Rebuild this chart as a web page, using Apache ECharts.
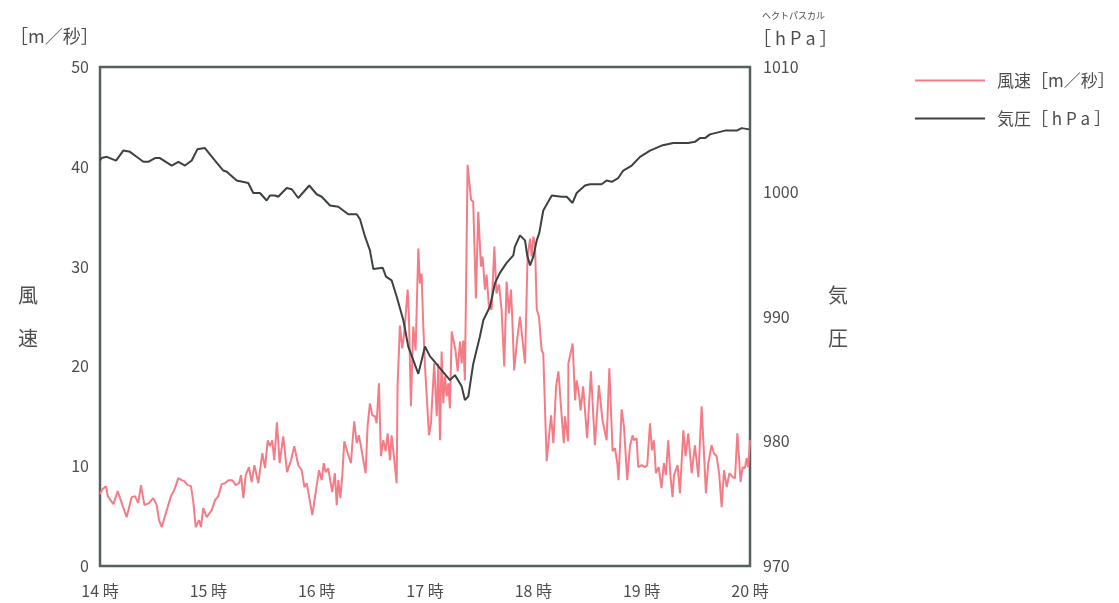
<!DOCTYPE html>
<html><head><meta charset="utf-8">
<script src="https://cdn.jsdelivr.net/npm/echarts@6/dist/echarts.min.js"></script>
<style>html,body{margin:0;padding:0;background:#fff}#c{width:1119px;height:603px}</style>
</head><body><div id="c"></div>
<script>
// time in minutes after 14:00
const xTickLabels = ['14 時','15 時','16 時','17 時','18 時','19 時','20 時'];
const windLabel = '風速［m／秒］';
const pressLabel = '気圧［ h P a ］';
const windSpeed = [[0,7.2],[1.3,7.7],[3.3,8.0],[4.3,7.0],[7.4,6.2],[9.8,7.5],[12.4,6.1],[14.8,4.9],[17.5,6.9],[19.4,7.0],[21.2,6.3],[22.7,8.1],[24.6,6.1],[27.1,6.3],[29.5,6.8],[31.4,6.1],[32.7,4.6],[34.2,3.9],[36.0,5.0],[36.9,4.8],[39.3,7.0],[41.1,7.6],[43.4,8.8],[45.2,8.6],[46.7,8.5],[48.6,8.1],[50.4,8.0],[51.7,6.4],[53.0,3.9],[54.8,4.6],[55.9,3.9],[57.2,5.8],[59.1,4.9],[61.9,5.6],[63.7,6.6],[65.5,7.0],[67.4,8.2],[69.2,8.3],[71.1,8.6],[73.3,8.6],[75.1,8.1],[77.0,8.3],[78.1,9.1],[79.4,6.8],[80.7,9.1],[82.5,9.9],[84.0,8.4],[85.5,10.1],[87.7,8.3],[89.9,11.3],[91.4,9.8],[92.9,12.6],[94.1,12.0],[95.4,12.6],[96.5,10.6],[98.0,14.4],[99.5,10.3],[101.5,13.0],[103.6,9.4],[105.8,10.6],[107.6,12.0],[109.8,10.1],[111.7,9.6],[113.2,7.9],[114.5,8.3],[117.6,5.1],[119.4,7.3],[121.3,9.6],[122.8,8.6],[123.9,10.3],[125.0,9.4],[126.4,9.8],[128.6,7.4],[130.1,9.3],[131.1,6.1],[132.0,8.6],[133.1,6.8],[134.2,9.1],[135.3,12.5],[137.2,11.3],[139.0,10.3],[139.7,12.1],[140.8,14.5],[142.2,12.3],[143.4,13.1],[144.9,11.6],[147.1,9.3],[148.2,14.0],[149.5,16.3],[150.8,15.1],[152.3,15.0],[153.2,14.3],[154.5,18.3],[155.6,11.0],[156.9,12.6],[158.2,11.5],[159.3,13.3],[160.6,10.6],[161.5,13.1],[163.0,10.6],[164.3,8.3],[164.8,18.0],[165.6,18.0],[166.1,24.1],[167.4,21.8],[168.5,23.3],[170.4,27.7],[171.1,25.0],[172.2,16.0],[173.5,24.0],[174.8,21.6],[176.3,31.8],[177.2,28.3],[178.1,29.3],[179.0,24.3],[180.0,20.0],[180.9,19.8],[182.2,13.1],[183.3,14.3],[184.0,14.1],[185.1,20.3],[186.5,15.0],[187.4,20.3],[188.3,12.6],[189.2,21.5],[190.1,16.3],[191.1,19.0],[192.0,17.0],[192.9,18.3],[193.8,15.8],[194.8,23.5],[195.8,23.6],[196.9,21.6],[198.1,19.5],[199.4,22.5],[200.3,20.3],[201.2,22.6],[202.1,18.6],[203.6,40.2],[205.5,36.7],[206.7,36.5],[208.2,26.8],[209.5,35.5],[211.0,30.0],[211.9,31.0],[213.2,27.7],[214.1,29.2],[215.4,26.0],[216.9,25.7],[218.4,32.0],[219.6,27.3],[221.0,28.2],[222.4,25.7],[223.9,20.0],[225.2,28.5],[226.5,25.3],[227.6,27.7],[228.3,25.0],[229.4,19.6],[230.8,22.3],[232.6,25.0],[235.4,20.3],[236.8,31.0],[238.2,32.8],[239.1,31.0],[240.0,33.0],[240.9,32.3],[241.9,25.7],[243.1,25.0],[244.6,21.6],[245.5,21.3],[247.4,10.5],[249.8,15.1],[251.1,12.3],[252.6,18.0],[253.9,19.5],[255.7,15.0],[256.9,12.3],[257.5,15.0],[259.3,12.5],[259.4,20.3],[261.8,22.3],[263.1,16.6],[264.0,18.6],[265.4,17.1],[266.2,15.6],[267.6,18.0],[269.8,12.8],[271.9,19.5],[274.1,12.1],[276.3,18.1],[278.3,14.6],[280.6,12.6],[282.1,19.8],[283.9,11.5],[285.2,11.8],[286.5,10.3],[287.2,8.6],[288.9,15.7],[290.2,14.0],[292.0,8.6],[293.5,12.0],[295.0,13.1],[295.7,12.6],[297.2,12.8],[298.1,9.9],[300.0,10.1],[301.8,9.9],[303.1,10.1],[304.6,14.3],[305.7,11.6],[306.8,12.6],[307.9,9.3],[309.4,9.9],[311.0,7.8],[312.3,10.3],[313.4,9.1],[314.7,12.6],[316.0,8.9],[317.1,6.9],[317.9,9.1],[319.0,8.9],[319.9,10.1],[321.2,7.3],[323.1,13.6],[324.3,11.0],[325.8,13.3],[327.7,9.3],[329.5,12.1],[331.4,8.9],[333.2,16.0],[335.6,7.3],[336.9,10.3],[338.7,12.1],[340.0,11.3],[341.5,11.0],[342.9,9.3],[344.3,5.9],[345.6,9.6],[347.1,7.9],[348.6,9.3],[350.4,8.9],[351.7,8.8],[353.0,13.3],[354.8,8.4],[355.9,9.9],[357.2,9.8],[358.1,10.8],[359.0,9.9],[360,12.6]];
const pressure = [[0,1002.5],[0.9,1002.7],[3.7,1002.8],[8.9,1002.5],[12.9,1003.3],[16.6,1003.2],[20.3,1002.8],[24.0,1002.4],[26.7,1002.4],[30.5,1002.7],[33.2,1002.7],[39.7,1002.1],[43.4,1002.4],[47.1,1002.1],[50.8,1002.5],[53.9,1003.4],[58.1,1003.5],[63.7,1002.5],[68.3,1001.7],[70.2,1001.6],[75.7,1000.9],[82.1,1000.7],[84.9,999.9],[88.6,999.9],[92.3,999.3],[94.1,999.7],[96.9,999.7],[98.7,999.6],[103.4,1000.3],[106.2,1000.2],[109.8,999.5],[115.9,1000.5],[120.0,999.8],[122.8,999.6],[127.4,998.9],[132.0,998.8],[137.5,998.2],[142.2,998.2],[144.0,997.8],[146.8,996.4],[149.5,995.3],[151.4,993.8],[156.6,993.9],[158.4,993.2],[161.5,992.9],[164.3,991.6],[168.0,989.7],[170.7,987.6],[173.5,986.5],[176.3,985.4],[180.0,987.6],[182.8,986.8],[184.6,986.5],[187.4,986.0],[189.2,985.7],[193.8,984.9],[196.6,985.3],[200.3,984.4],[202.1,983.3],[204.0,983.6],[206.7,986.2],[210.4,988.4],[212.3,989.7],[216.0,990.8],[218.8,992.7],[221.5,993.5],[225.2,994.3],[228.9,994.9],[229.8,995.6],[232.6,996.5],[235.4,996.1],[236.6,994.9],[238.2,994.1],[240.0,994.8],[241.9,996.1],[243.3,996.7],[245.5,998.5],[250.2,999.7],[255.7,999.6],[258.5,999.6],[261.7,999.1],[264.0,999.9],[268.6,1000.5],[271.4,1000.6],[277.8,1000.6],[280.6,1000.9],[283.4,1000.8],[287.0,1001.1],[289.8,1001.7],[294.5,1002.1],[299.1,1002.8],[304.6,1003.3],[311.1,1003.7],[317.5,1003.9],[325.8,1003.9],[329.5,1004.0],[332.3,1004.3],[335.1,1004.3],[337.8,1004.6],[343.4,1004.8],[346.2,1004.9],[352.6,1004.9],[355.4,1005.1],[359.6,1005.0]];

const FONT = '"Noto Sans CJK JP","Noto Sans",sans-serif';
const TXT = '#4d4d4d';
const chart = echarts.init(document.getElementById('c'), null, {renderer:'canvas'});
chart.setOption({
  animation:false,
  backgroundColor:'#fff',
  textStyle:{fontFamily:FONT},
  grid:{left:100,right:369,top:67,bottom:37,show:true,borderColor:'#56605c',borderWidth:2.5,backgroundColor:'transparent'},
  legend:{orient:'vertical',left:910,top:67,itemWidth:70,itemHeight:2,icon:'rect',itemGap:21,
    data:[windLabel,pressLabel],
    textStyle:{fontFamily:FONT,fontSize:17,color:TXT,padding:[0,0,0,7]}},
  xAxis:{type:'value',min:0,max:360,interval:60,
    axisLine:{show:false},axisTick:{show:false},splitLine:{show:false},
    axisLabel:{margin:17,fontSize:16,color:TXT,fontFamily:FONT,formatter:v=>xTickLabels[Math.round(v/60)]}},
  yAxis:[
    {type:'value',min:0,max:50,interval:10,axisLine:{show:false},axisTick:{show:false},splitLine:{show:false},
     axisLabel:{margin:11,fontSize:16,color:TXT,fontFamily:FONT}},
    {type:'value',min:970,max:1010,interval:10,axisLine:{show:false},axisTick:{show:false},splitLine:{show:false},
     axisLabel:{margin:13,fontSize:16,color:TXT,fontFamily:FONT,formatter:v=>String(v)}}
  ],
  graphic:[
    {type:'text',left:10,top:27,style:{text:'［m／秒］',font:'18px '+FONT,fill:TXT}},
    {type:'text',left:762,top:11,style:{text:'ヘクトパスカル',font:'9px '+FONT,fill:TXT}},
    {type:'text',left:753,top:29,style:{text:'［ h P a ］',font:'18px '+FONT,fill:TXT}},
    {type:'text',left:18,top:285,style:{text:'風',font:'20px '+FONT,fill:TXT}},
    {type:'text',left:18,top:328,style:{text:'速',font:'20px '+FONT,fill:TXT}},
    {type:'text',left:828,top:285,style:{text:'気',font:'20px '+FONT,fill:TXT}},
    {type:'text',left:828,top:328,style:{text:'圧',font:'20px '+FONT,fill:TXT}}
  ],
  series:[
    {name:windLabel,type:'line',yAxisIndex:0,data:windSpeed,symbol:'none',color:'#f47c87',lineStyle:{width:2,color:'#f47c87'}},
    {name:pressLabel,type:'line',yAxisIndex:1,data:pressure,symbol:'none',color:'#3b4240',lineStyle:{width:2,color:'#3b4240'}}
  ]
});
</script></body></html>
